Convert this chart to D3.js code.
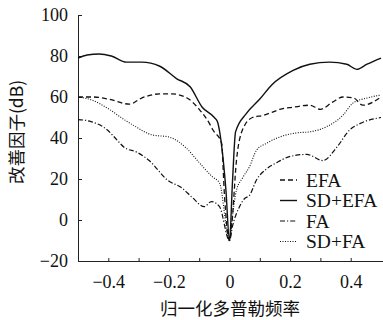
<!DOCTYPE html>
<html><head><meta charset="utf-8">
<script src="https://cdn.jsdelivr.net/npm/d3@7/dist/d3.min.js"></script>
<style>html,body{margin:0;padding:0;background:#fff;}svg{display:block;}</style>
</head><body><svg id="c" width="383" height="320"></svg>
<script>
const xTicks = [-0.4, -0.2, 0, 0.2, 0.4];
const xTickLabels = ["\u22120.4", "\u22120.2", "0", "0.2", "0.4"];
const yTicks = [-20, 0, 20, 40, 60, 80, 100];
const yTickLabels = ["\u221220", "0", "20", "40", "60", "80", "100"];
const seriesNames = ["EFA", "SD+EFA", "FA", "SD+FA"];

const efaX = [-0.5,-0.45,-0.4,-0.33,-0.29,-0.23,-0.19,-0.14,-0.1,-0.066,-0.055,-0.026,-0.017,0,0.007,0.023,0.043,0.076,0.11,0.14,0.166,0.21,0.265,0.3,0.34,0.375,0.41,0.44,0.5];
const efaY = [60,60,59,56.5,59.5,61.5,61.5,59.5,54,47,44,37.5,13,-10,-3,29,44,50,51,52.5,54,55,56,54,57.5,60,59.5,56,60];

const sdefaX = [-0.5,-0.47,-0.43,-0.39,-0.34,-0.29,-0.23,-0.175,-0.13,-0.09,-0.05,-0.04,-0.025,-0.012,0,0.01,0.02,0.056,0.1,0.14,0.21,0.265,0.33,0.387,0.42,0.454,0.5];
const sdefaY = [79,80.5,81,80,77,77,75,69,65,55,50,48,35,15,-10,19,43,52,59,66,73,76,77,76,73.5,76,79];

const faX = [-0.5,-0.457,-0.404,-0.371,-0.348,-0.305,-0.265,-0.205,-0.156,-0.123,-0.083,-0.06,-0.033,0,0.01,0.033,0.05,0.066,0.089,0.123,0.156,0.2,0.255,0.308,0.354,0.397,0.43,0.5];
const faY = [49,48,44,39,35.5,33,29,19.5,15.5,11,6.5,9,6.5,-10,-3,6.5,10.5,12,19.5,25,28,31,32,29,35.5,44,47,50];

const sdfaX = [-0.5,-0.454,-0.397,-0.348,-0.315,-0.255,-0.2,-0.142,-0.1,-0.056,-0.033,0,0.008,0.023,0.043,0.066,0.089,0.123,0.166,0.222,0.265,0.32,0.374,0.407,0.454,0.5];
const sdfaY = [60,58.5,54,49,46,41.5,40.5,35,28,21,18,-10,0,14.5,20.5,26,34,37.5,40.5,42.5,43,45.5,51,57,59.5,61];

const svg = d3.select("#c");
const x = d3.scaleLinear().domain([-0.5, 0.5]).range([78, 381]);
const y = d3.scaleLinear().domain([-20, 100]).range([261, 15]);
const serif = "'Liberation Serif','DejaVu Serif',serif";
const cjk = "'Noto Sans CJK SC','Noto Sans',sans-serif";

// axes
const yAxis = d3.axisLeft(y).tickValues(yTicks).tickSize(-4).tickPadding(10)
  .tickFormat((d,i) => yTickLabels[i]);
const gy = svg.append("g").attr("transform", "translate(78,0)").call(yAxis);
gy.select(".domain").attr("d", "M0.5," + y(100) + "V" + (y(-20)+0.5));
gy.selectAll("text").attr("font-family", serif).attr("font-size", 18).attr("fill", "#111").attr("dy","0.33em");
gy.selectAll("line,path").attr("stroke", "#222");

const xAxisMinor = d3.axisBottom(x).tickValues(d3.range(-4, 5).map(d => d / 10)).tickSize(-3).tickFormat("");
const gxm = svg.append("g").attr("transform", "translate(0,261)").call(xAxisMinor);
gxm.select(".domain").attr("d", "M78,0.5H383");
gxm.selectAll("line,path").attr("stroke", "#222");

const xAxis = d3.axisBottom(x).tickValues(xTicks).tickSize(0).tickPadding(14)
  .tickFormat((d,i) => xTickLabels[i]);
const gx = svg.append("g").attr("transform", "translate(0,261)").call(xAxis);
gx.select(".domain").remove();
gx.selectAll("text").attr("font-family", serif).attr("font-size", 18).attr("fill", "#111");

// axis titles
svg.append("text").attr("transform", "translate(23,132) rotate(-90)")
  .attr("text-anchor", "middle").attr("font-family", cjk).attr("font-size", 17.5).attr("fill", "#111")
  .text("改善因子(dB)");
svg.append("text").attr("x", 230).attr("y", 315)
  .attr("text-anchor", "middle").attr("font-family", cjk).attr("font-size", 17.5).attr("fill", "#111")
  .text("归一化多普勒频率");

// lines
const styles = {
  "EFA": {dash: "5,3", w: 1.3},
  "SD+EFA": {dash: null, w: 1.4},
  "FA": {dash: "5,2,1.2,2", w: 1.2},
  "SD+FA": {dash: "1,1.5", w: 1.1}
};
const series = [
  {name: "EFA", xs: efaX, ys: efaY},
  {name: "SD+EFA", xs: sdefaX, ys: sdefaY},
  {name: "FA", xs: faX, ys: faY},
  {name: "SD+FA", xs: sdfaX, ys: sdfaY}
];
const line = d3.line().x(d => x(d[0])).y(d => y(d[1])).curve(d3.curveMonotoneX);
series.forEach(s => {
  const pts = s.xs.map((v, i) => [v, s.ys[i]]);
  const st = styles[s.name];
  svg.append("path").attr("d", line(pts)).attr("fill", "none").attr("stroke", "#111")
    .attr("stroke-width", st.w).attr("stroke-dasharray", st.dash);
});

// legend
const leg = svg.append("g");
seriesNames.forEach((n, i) => {
  const yy = 180 + i * 20.5;
  const st = styles[n];
  leg.append("line").attr("x1", 280).attr("x2", 297).attr("y1", yy).attr("y2", yy)
    .attr("stroke", "#111").attr("stroke-width", st.w).attr("stroke-dasharray", st.dash);
  leg.append("text").attr("x", 306).attr("y", yy).attr("dy", "0.35em")
    .attr("font-family", serif).attr("font-size", 19.5).attr("fill", "#111").text(n);
});
</script></body></html>
